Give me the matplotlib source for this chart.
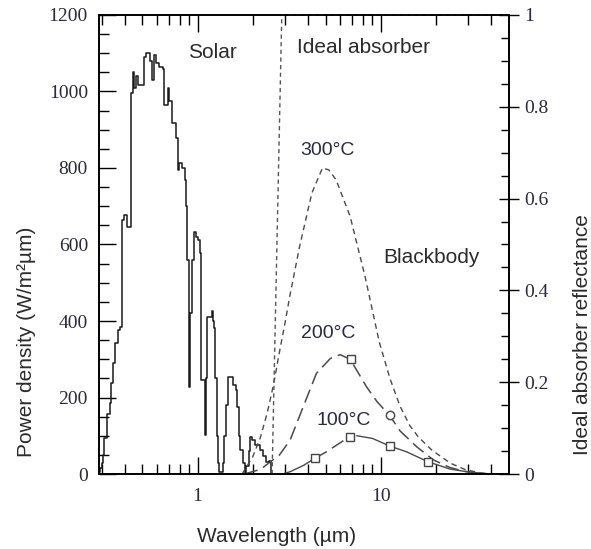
import matplotlib
matplotlib.use("Agg")
import matplotlib.pyplot as plt
from matplotlib.ticker import FixedLocator, MultipleLocator, FuncFormatter, NullFormatter

# solar spectrum (step curve)
solar_wl = [0.285, 0.29, 0.295, 0.300, 0.305, 0.310, 0.319, 0.331, 0.337, 0.344,
            0.355, 0.367, 0.376, 0.386, 0.399, 0.411, 0.431, 0.444, 0.450, 0.460,
            0.472, 0.509, 0.525, 0.547, 0.563, 0.577, 0.595, 0.620, 0.646, 0.660,
            0.690, 0.703, 0.728, 0.765, 0.787, 0.797, 0.821, 0.849, 0.867, 0.880,
            0.893, 0.915, 0.935, 0.954, 0.984, 1.004, 1.025, 1.040, 1.050, 1.085,
            1.100, 1.110, 1.125, 1.205, 1.215, 1.228, 1.250, 1.270, 1.290, 1.305,
            1.370, 1.400, 1.430, 1.465, 1.560, 1.613, 1.640, 1.675, 1.711, 1.768,
            1.806, 1.846, 1.907, 1.940, 1.990, 2.070, 2.180, 2.270, 2.350, 2.450,
            2.500, 2.550]
solar_p = [0, 6, 15, 28, 50, 94, 157, 186, 237, 290,
           342, 377, 385, 664, 677, 646, 996, 1051, 1010, 1040,
           1017, 1090, 1100, 1080, 1030, 1095, 1075, 1065, 1060, 965,
           1010, 975, 917, 878, 795, 813, 800, 768, 700, 560,
           228, 420, 560, 633, 620, 612, 577, 480, 246, 246,
           102, 250, 411, 425, 400, 382, 250, 100, 28, 5,
           30, 100, 180, 254, 232, 220, 175, 100, 63, 28,
           3, 20, 60, 97, 90, 76, 63, 47, 31, 35,
           0, 0]

# blackbody curves
bb300_wl = [1.75, 2.0, 2.2, 2.4, 2.6, 2.8, 3.0, 3.2, 3.6, 4.2, 4.8, 5.2, 5.7,
            6.8, 8.2, 9.8, 11.2, 12.7, 14.4, 16.0, 19.0, 24.0, 29.0, 35.0, 40.0]
bb300_p = [0, 45, 95, 160, 235, 320, 395, 470, 594, 734, 800, 795, 769,
           673, 516, 345, 250, 178, 126, 97, 62, 28, 11, 3, 0]

bb200_wl = [1.8, 2.2, 2.5, 2.8, 3.2, 3.8, 4.45, 5.3, 6.0, 6.8, 8.35, 9.5,
            11.2, 12.7, 15.7, 19.3, 23.8, 28.5, 35.0, 40.0]
bb200_p = [0, 12, 32, 50, 89, 180, 263, 302, 312, 300, 228, 190,
           152, 113, 71, 37, 17, 7, 2, 0]

bb100a_wl = [2.9, 3.2, 3.8, 4.36]
bb100a_p = [0, 6, 23, 41]
bb100b_wl = [4.36, 5.0, 5.8, 6.77]
bb100b_p = [41, 57, 77, 98]
bb100c_wl = [7.4, 9.0, 11.2, 13.8, 18.1, 23.8, 29.4, 35.0, 40.0]
bb100c_p = [100, 93, 73, 58, 32, 13, 6, 2, 0]

# markers
sq100_wl = [4.36, 6.77, 11.2, 18.1]
sq100_p = [41, 98, 73, 32]
sq200_wl = [6.83]
sq200_p = [300]
circ200_wl = [11.2]
circ200_p = [154]

# ideal absorber reflectance (right axis)
absorber_wl = [2.55, 2.88, 50]
absorber_r = [0, 1, 1]

plt.rcParams['font.family'] = ['Liberation Sans', 'DejaVu Sans']

fig = plt.figure(figsize=(5.91, 5.49), dpi=100)
ax = fig.add_axes([0.1675, 0.1366, 0.6938, 0.8361])

ax.step(solar_wl, solar_p, where='post', color='#1a1a1a', lw=1.1)

grey = '#4a4a4a'
ax.plot(bb300_wl, bb300_p, color=grey, lw=1.0, dashes=(4, 3))
ax.plot(bb200_wl, bb200_p, color=grey, lw=1.1, dashes=(9, 4))
ax.plot(bb100a_wl, bb100a_p, color=grey, lw=1.0)
ax.plot(bb100b_wl, bb100b_p, color=grey, lw=1.1, dashes=(9, 4))
ax.plot(bb100c_wl, bb100c_p, color=grey, lw=1.0)

mk = dict(ls='none', mfc='white', mec='#444444', mew=1.0, ms=6, zorder=5)
ax.plot(sq100_wl, sq100_p, marker='s', **mk)
ax.plot(sq200_wl, sq200_p, marker='s', **mk)
ax.plot(circ200_wl, circ200_p, marker='o', **mk)

ax.set_xscale('log')
ax.set_xlim(0.29, 50)
ax.set_ylim(0, 1200)
ax.xaxis.set_major_locator(FixedLocator([1, 10]))
ax.xaxis.set_minor_locator(FixedLocator([0.3, 0.4, 0.5, 0.6, 0.7, 0.8, 0.9,
                                         2, 3, 4, 5, 6, 7, 8, 9, 20, 30, 40]))
ax.xaxis.set_major_formatter(FuncFormatter(lambda v, p: f"{v:g}"))
ax.xaxis.set_minor_formatter(NullFormatter())
ax.yaxis.set_major_locator(MultipleLocator(200))
ax.yaxis.set_minor_locator(MultipleLocator(50))

lblcol = '#2a2a3a'
ax.tick_params(axis='x', which='both', direction='in', top=True, width=1.0,
               labelsize=14, labelcolor=lblcol, labelfontfamily='Liberation Serif', pad=10)
ax.tick_params(axis='x', which='major', length=12)
ax.tick_params(axis='x', which='minor', length=7)
ax.tick_params(axis='y', which='both', direction='in', right=False, width=1.0,
               labelsize=14, labelcolor=lblcol, labelfontfamily='Liberation Serif', pad=8)
ax.tick_params(axis='y', which='major', length=12)
ax.tick_params(axis='y', which='minor', length=7)
for s in ax.spines.values():
    s.set_linewidth(1.2)

ax2 = ax.twinx()
ax2.plot(absorber_wl, absorber_r, color='#555555', lw=1.0, dashes=(3, 2.5), clip_on=False)
ax2.set_ylim(0, 1)
ax2.yaxis.set_major_locator(MultipleLocator(0.2))
ax2.yaxis.set_minor_locator(MultipleLocator(0.05))
ax2.yaxis.set_major_formatter(FuncFormatter(lambda v, p: f"{v:g}"))
ax2.tick_params(axis='y', which='major', direction='inout', length=14, width=1.0,
                labelsize=14, labelcolor=lblcol, labelfontfamily='Liberation Serif', pad=4)
ax2.tick_params(axis='y', which='minor', direction='in', length=6, width=1.0)
for s in ax2.spines.values():
    s.set_linewidth(1.2)

txtcol = '#2b2b2b'
ax.text(1.21, 1103, 'Solar', fontsize=15, color=txtcol, ha='center', va='center')
ax.text(3.47, 1114, 'Ideal absorber', fontsize=15, color=txtcol, ha='left', va='center')
ax.text(5.13, 847, '300°C', fontsize=14, color='#2a2a40', ha='center', va='center')
ax.text(18.8, 565, 'Blackbody', fontsize=15, color=txtcol, ha='center', va='center')
ax.text(5.13, 368, '200°C', fontsize=14, color='#2a2a40', ha='center', va='center')
ax.text(6.28, 141, '100°C', fontsize=14, color='#2a2a40', ha='center', va='center')

fig.text(277 / 591, 1 - 537 / 549, 'Wavelength (µm)', fontsize=15, color=txtcol,
         ha='center', va='center')
fig.text(27 / 591, 1 - 342 / 549, 'Power density (W/m²µm)', fontsize=15, color=txtcol,
         ha='center', va='center', rotation=90)
fig.text(582 / 591, 1 - 335 / 549, 'Ideal absorber reflectance', fontsize=15, color=txtcol,
         ha='center', va='center', rotation=90)

fig.savefig('out.png', dpi=100)
